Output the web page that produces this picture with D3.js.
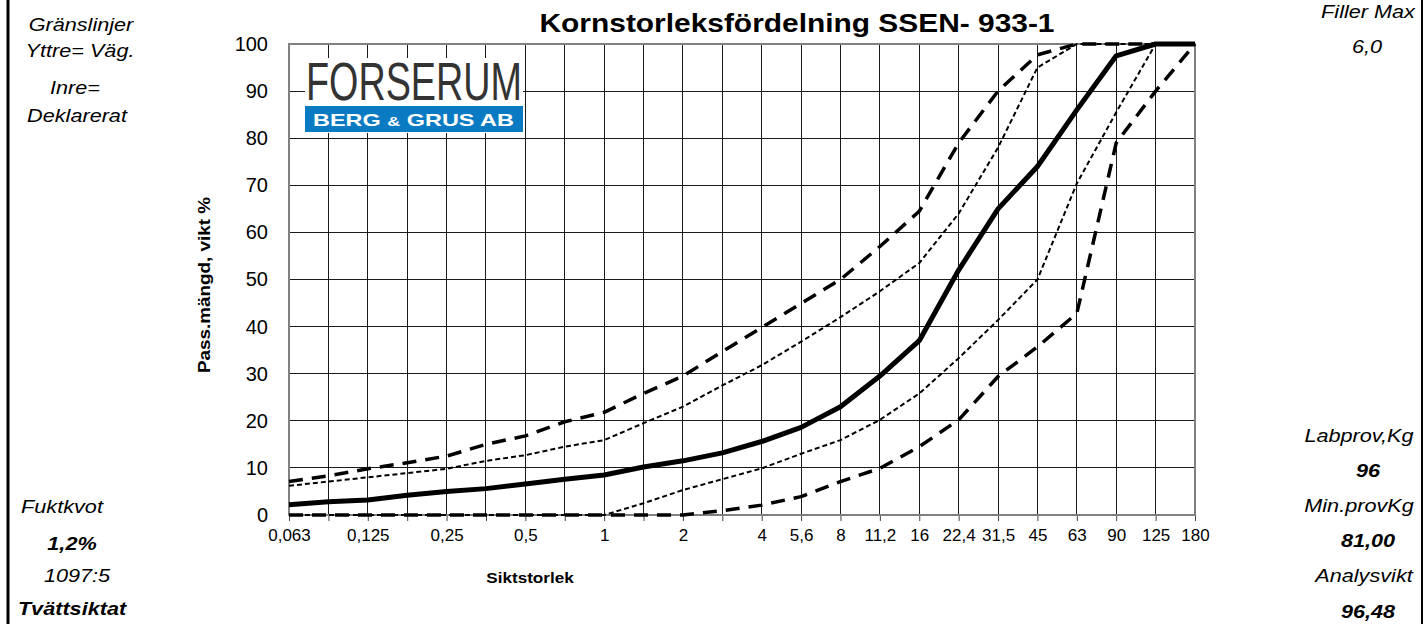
<!DOCTYPE html>
<html>
<head>
<meta charset="utf-8">
<script src="https://cdn.jsdelivr.net/npm/d3@7"></script>
<style>
  body { margin: 0; background: #fff; }
  text { font-family: Arial, "Liberation Sans", sans-serif; }
</style>
</head>
<body>
<script>
// sieve sizes (mm), one category per grid column
var sieves = ["0.063","0.09","0.125","0.18","0.25","0.355","0.5","0.71","1","1.4","2","2.8",
              "4","5.6","8","11.2","16","22.4","31.5","45","63","90","125","180"];
var tickLabels = ["0,063","","0,125","","0,25","","0,5","","1","","2","",
                  "4","5,6","8","11,2","16","22,4","31,5","45","63","90","125","180"];

// passing, % by weight
var passing   = [2.2, 2.8, 3.2, 4.2, 5.0, 5.6, 6.6, 7.6, 8.5, 10.2, 11.5, 13.2,
                 15.6, 18.6, 23, 29.5, 37, 52, 65, 74, 86, 97.5, 100, 100];
var vagUpper  = [7.1, 8.3, 9.8, 11.1, 12.5, 15, 16.8, 19.8, 21.8, 25.8, 29.5, 34.7,
                 39.8, 44.9, 50, 57, 64.5, 79, 90, 97.7, 100, 100, 100, 100];
var vagLower  = [0, 0, 0, 0, 0, 0, 0, 0, 0, 0, 0, 0.9,
                 2.1, 3.9, 7.1, 9.9, 14.5, 20.2, 29.4, 35.7, 42.8, 79, 90, 100];
var deklUpper = [6.2, 7.1, 8.0, 8.9, 9.8, 11.5, 12.7, 14.5, 15.9, 19.5, 23, 27.5,
                 31.8, 36.8, 42, 47.5, 53.5, 64, 78, 95, 100, 100, 100, 100];
var deklLower = [0, 0, 0, 0, 0, 0, 0, 0, 0, 2.5, 5.3, 7.6,
                 9.9, 13, 15.9, 20.2, 25.8, 33.3, 41.4, 50, 70.4, 85.5, 100, 100];
var yTicks = [0, 10, 20, 30, 40, 50, 60, 70, 80, 90, 100];

var W = 1424, H = 624;
var plot = {left: 289, right: 1195, top: 44, bottom: 515};

var svg = d3.select("body").append("svg")
    .attr("width", W)
    .attr("height", H);
svg.append("rect").attr("width", W).attr("height", H).attr("fill", "#fff");

var x = d3.scalePoint()
    .domain(sieves)
    .range([plot.left, plot.right]);
var y = d3.scaleLinear()
    .domain([0, 100])
    .range([plot.bottom, plot.top]);

// grid
var grid = svg.append("g").attr("stroke", "#1a1a1a").attr("stroke-width", 1)
    .attr("shape-rendering", "crispEdges");
grid.selectAll(".vg").data(sieves).enter().append("line")
    .attr("x1", function(d) { return x(d); }).attr("x2", function(d) { return x(d); })
    .attr("y1", plot.top).attr("y2", plot.bottom);
grid.selectAll(".hg").data(yTicks).enter().append("line")
    .attr("x1", plot.left).attr("x2", plot.right)
    .attr("y1", function(d) { return y(d); }).attr("y2", function(d) { return y(d); });

// x axis
var xAxis = svg.append("g")
    .attr("transform", "translate(0," + plot.bottom + ")")
    .call(d3.axisBottom(x).tickSizeOuter(0).tickSize(6).tickPadding(8)
      .tickFormat(function(d, i) { return tickLabels[i]; }));
xAxis.select(".domain").remove();
xAxis.selectAll("line").attr("stroke", "#444");
xAxis.selectAll("text").attr("font-size", 17).attr("fill", "#000")
    .attr("font-family", "Arial, 'Liberation Sans', sans-serif");

// y axis
var yAxis = svg.append("g")
    .attr("transform", "translate(" + plot.left + ",0)")
    .call(d3.axisLeft(y).tickValues(yTicks).tickSize(0).tickPadding(21));
yAxis.select(".domain").remove();
yAxis.selectAll("text").attr("font-size", 20).attr("fill", "#000")
    .attr("font-family", "Arial, 'Liberation Sans', sans-serif");

// plot border
svg.append("rect")
    .attr("x", plot.left).attr("y", plot.top)
    .attr("width", plot.right - plot.left).attr("height", plot.bottom - plot.top)
    .attr("fill", "none").attr("stroke", "#808080").attr("stroke-width", 2);

// logo
var logo = svg.append("g");
logo.append("rect").attr("x", 305).attr("y", 58).attr("width", 218).attr("height", 75).attr("fill", "#fff");
logo.append("text").attr("x", 306).attr("y", 100)
    .attr("font-family", "'Liberation Sans Narrow', 'DejaVu Sans Condensed', sans-serif")
    .attr("font-size", 53).attr("fill", "#333")
    .attr("textLength", 216).attr("lengthAdjust", "spacingAndGlyphs")
    .text("FORSERUM");
logo.append("rect").attr("x", 305).attr("y", 106).attr("width", 218).attr("height", 26).attr("fill", "#0a7bc2");
var bg = logo.append("text").attr("x", 313).attr("y", 126)
    .attr("font-size", 17).attr("font-weight", "bold").attr("fill", "#fff")
    .attr("textLength", 201).attr("lengthAdjust", "spacingAndGlyphs");
bg.append("tspan").text("BERG ");
bg.append("tspan").attr("font-size", 13).text("&");
bg.append("tspan").text(" GRUS AB");

// curves
var line = d3.line()
    .x(function(d, i) { return x(sieves[i]); })
    .y(function(d) { return y(d); });

var series = [
  {values: deklUpper, width: 2, dash: "5,3"},
  {values: deklLower, width: 2, dash: "5,3"},
  {values: vagUpper, width: 3.5, dash: "14,9"},
  {values: vagLower, width: 3.5, dash: "14,9"},
  {values: passing, width: 5, dash: null}
];
svg.selectAll(".curve").data(series).enter().append("path")
    .attr("class", "curve")
    .attr("d", function(d) { return line(d.values); })
    .attr("fill", "none")
    .attr("stroke", "#000")
    .attr("stroke-width", function(d) { return d.width; })
    .attr("stroke-dasharray", function(d) { return d.dash; })
    .attr("stroke-linejoin", "round");

// texts
var sx = 1.14;
function label(txt, cx, cy, size, opts) {
  opts = opts || {};
  var t = svg.append("text")
      .attr("transform", "translate(" + cx + "," + cy + ")" + (opts.rotate ? " rotate(-90)" : "") +
            " scale(" + (opts.sx || sx) + ",1)")
      .attr("text-anchor", "middle")
      .attr("font-size", size)
      .attr("fill", "#000")
      .text(txt);
  if (opts.bold) t.attr("font-weight", "bold");
  if (opts.italic) t.attr("font-style", "italic");
  return t;
}

svg.append("text").attr("x", 797).attr("y", 32)
    .attr("text-anchor", "middle").attr("font-size", 25).attr("font-weight", "bold")
    .attr("textLength", 515).attr("lengthAdjust", "spacingAndGlyphs")
    .text("Kornstorleksfördelning SSEN- 933-1");

label("Siktstorlek", 530, 583, 15, {bold: true});
label("Pass.mängd, vikt %", 210, 285, 16, {bold: true, rotate: true, sx: 1.18});

label("Gränslinjer", 81, 31, 19, {italic: true});
label("Yttre= Väg.", 80, 57, 19, {italic: true});
label("Inre=", 75, 94, 19, {italic: true});
label("Deklarerat", 77, 122, 19, {italic: true});

label("Fuktkvot", 62, 513, 19, {italic: true});
label("1,2%", 72, 550, 19, {italic: true, bold: true});
label("1097:5", 77, 582, 19, {italic: true});
label("Tvättsiktat", 72, 615, 19, {italic: true, bold: true});

label("Filler Max", 1368, 18, 19, {italic: true});
label("6,0", 1367, 53, 19, {italic: true});
label("Labprov,Kg", 1359, 442, 19, {italic: true});
label("96", 1368, 477, 19, {italic: true, bold: true});
label("Min.provKg", 1359, 512, 19, {italic: true});
label("81,00", 1368, 547, 19, {italic: true, bold: true});
label("Analysvikt", 1364, 582, 19, {italic: true});
label("96,48", 1368, 618, 19, {italic: true, bold: true});

// frame edges
svg.append("line").attr("x1", 8).attr("x2", 8).attr("y1", 0).attr("y2", H)
    .attr("stroke", "#000").attr("stroke-width", 3);
svg.append("line").attr("x1", 1422).attr("x2", 1422).attr("y1", 0).attr("y2", H)
    .attr("stroke", "#000").attr("stroke-width", 2);
</script>
</body>
</html>
